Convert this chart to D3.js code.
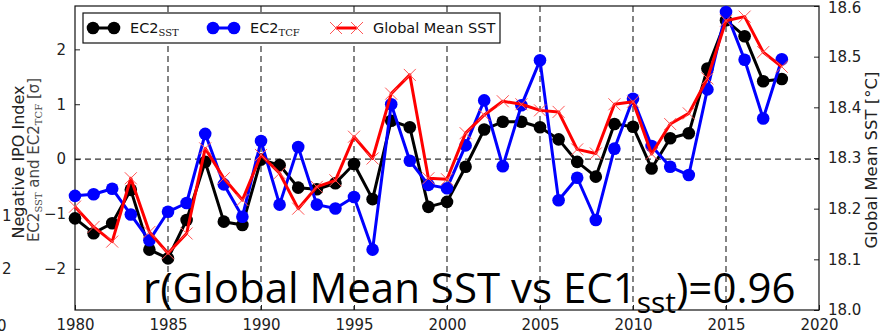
<!DOCTYPE html>
<html>
<head>
<meta charset="utf-8">
<script src="https://cdn.jsdelivr.net/npm/d3@7"></script>
<style>
  body { margin: 0; background: #fff; }
  svg { display: block; }
  text { font-family: "DejaVu Sans", sans-serif; }
</style>
</head>
<body>
<div id="chart"></div>
<script>
// years on x axis
var years = [1980, 1981, 1982, 1983, 1984, 1985, 1986, 1987, 1988, 1989,
    1990, 1991, 1992, 1993, 1994, 1995, 1996, 1997, 1998, 1999,
    2000, 2001, 2002, 2003, 2004, 2005, 2006, 2007, 2008, 2009,
    2010, 2011, 2012, 2013, 2014, 2015, 2016, 2017, 2018];

// EC2 from SST (black), left axis
var ec2sst = [-1.08, -1.35, -1.17, -0.56, -1.65, -1.81, -1.11, -0.05, -1.14, -1.20,
    -0.01, -0.11, -0.52, -0.55, -0.44, -0.09, -0.73, 0.70, 0.58, -0.87,
    -0.78, -0.14, 0.54, 0.68, 0.68, 0.58, 0.36, -0.05, -0.32, 0.64,
    0.59, -0.17, 0.38, 0.47, 1.65, 2.53, 2.24, 1.42, 1.46];

// EC2 from TCF (blue), left axis
var ec2tcf = [-0.67, -0.64, -0.54, -1.01, -1.48, -0.96, -0.80, 0.46, -0.46, -1.05,
    0.33, -0.83, 0.22, -0.83, -0.90, -0.69, -1.65, 1.00, -0.03, -0.47,
    -0.53, 0.25, 1.07, -0.13, 0.98, 1.80, -0.75, -0.34, -1.11, 0.19,
    1.10, 0.24, -0.14, -0.29, 1.27, 2.68, 1.81, 0.74, 1.82];

// global mean SST (red), right axis, deg C
var gmsst = [18.204, 18.164, 18.135, 18.260, 18.154, 18.112, 18.151, 18.319, 18.260, 18.217,
    18.306, 18.270, 18.200, 18.243, 18.256, 18.342, 18.299, 18.427, 18.464, 18.260,
    18.258, 18.349, 18.385, 18.412, 18.406, 18.394, 18.391, 18.317, 18.309, 18.406,
    18.411, 18.308, 18.367, 18.388, 18.457, 18.571, 18.579, 18.509, 18.480];

var xTicks = [1980, 1985, 1990, 1995, 2000, 2005, 2010, 2015, 2020];
var yLeftTicks = [-2, -1, 0, 1, 2];
var yRightTicks = [18.0, 18.1, 18.2, 18.3, 18.4, 18.5, 18.6];

var width = 880, height = 335;
var margin = { top: 6, right: 61, bottom: 25, left: 75 };

var svg = d3.select("#chart").append("svg")
    .attr("width", width)
    .attr("height", height);

var x = d3.scaleLinear().domain([1980, 2020]).range([margin.left, width - margin.right]);
var yL = d3.scaleLinear().domain([-2.75, 2.79]).range([height - margin.bottom, margin.top]);
var yR = d3.scaleLinear().domain([18.0, 18.6]).range([height - margin.bottom, margin.top]);

var x0 = margin.left, x1 = width - margin.right;
var y0 = margin.top, y1 = height - margin.bottom;

// dashed guide lines
svg.append("g")
    .selectAll("line")
    .data(xTicks.slice(1, -1))
    .enter().append("line")
    .attr("x1", function (d) { return x(d); })
    .attr("x2", function (d) { return x(d); })
    .attr("y1", y0)
    .attr("y2", y1)
    .attr("stroke", "#333")
    .attr("stroke-width", 1.2)
    .attr("stroke-dasharray", "6,4");

svg.append("line")
    .attr("x1", x0).attr("x2", x1)
    .attr("y1", yL(0)).attr("y2", yL(0))
    .attr("stroke", "#333")
    .attr("stroke-width", 1.2)
    .attr("stroke-dasharray", "6,4");

// axes (ticks inside like matplotlib classic)
var axB = svg.append("g")
    .attr("transform", "translate(0," + y1 + ")")
    .call(d3.axisBottom(x).tickValues(xTicks).tickFormat(d3.format("d")).tickSizeInner(-5).tickSizeOuter(0).tickPadding(9));
var axL = svg.append("g")
    .attr("transform", "translate(" + x0 + ",0)")
    .call(d3.axisLeft(yL).tickValues(yLeftTicks).tickFormat(function (d) { return d < 0 ? "\u2212" + Math.abs(d) : d; }).tickSizeInner(-5).tickSizeOuter(0).tickPadding(9));
var axR = svg.append("g")
    .attr("transform", "translate(" + x1 + ",0)")
    .call(d3.axisRight(yR).tickValues(yRightTicks).tickFormat(d3.format(".1f")).tickSizeInner(-5).tickSizeOuter(0).tickPadding(9));

[axB, axL, axR].forEach(function (g) {
    g.select(".domain").remove();
    g.selectAll("text").style("font-size", "15px").attr("fill", "#222").style("font-family", "DejaVu Sans, sans-serif");
    g.selectAll("line").attr("stroke", "#222");
});
axR.selectAll("text").filter(function (d) { return d == 18.6; }).attr("dy", "0.42em");

// frame
svg.append("rect")
    .attr("x", x0).attr("y", y0)
    .attr("width", x1 - x0).attr("height", y1 - y0)
    .attr("fill", "none")
    .attr("stroke", "#111")
    .attr("stroke-width", 1.2);

function drawDots(vals, yScale, col) {
    var line = d3.line()
        .x(function (d, i) { return x(years[i]); })
        .y(function (d) { return yScale(d); });
    svg.append("path")
        .datum(vals)
        .attr("d", line)
        .attr("fill", "none")
        .attr("stroke", col)
        .attr("stroke-width", 3)
        .attr("stroke-linejoin", "round");
    svg.append("g")
        .selectAll("circle")
        .data(vals)
        .enter().append("circle")
        .attr("cx", function (d, i) { return x(years[i]); })
        .attr("cy", function (d) { return yScale(d); })
        .attr("r", 6.3)
        .attr("fill", col);
}

drawDots(ec2sst, yL, "#000");
drawDots(ec2tcf, yL, "#0000ff");

// global mean SST with x markers
var redLine = d3.line()
    .x(function (d, i) { return x(years[i]); })
    .y(function (d) { return yR(d); });
svg.append("path")
    .datum(gmsst)
    .attr("d", redLine)
    .attr("fill", "none")
    .attr("stroke", "#ff0000")
    .attr("stroke-width", 3)
    .attr("stroke-linejoin", "round");
svg.append("g")
    .selectAll("path")
    .data(gmsst)
    .enter().append("path")
    .attr("d", function (d, i) {
        var cx = x(years[i]), cy = yR(d), s = 6;
        return "M" + (cx - s) + "," + (cy - s) + "L" + (cx + s) + "," + (cy + s) +
            "M" + (cx - s) + "," + (cy + s) + "L" + (cx + s) + "," + (cy - s);
    })
    .attr("stroke", "#ff5555")
    .attr("stroke-width", 1)
    .attr("fill", "none");

// legend
var lg = svg.append("g");
lg.append("rect")
    .attr("x", 83).attr("y", 13)
    .attr("width", 417).attr("height", 30)
    .attr("fill", "#fff")
    .attr("stroke", "#111")
    .attr("stroke-width", 1.2);

var legendItems = [
    { col: "#000", main: "EC2", sub: "SST", x: 93, kind: "dot" },
    { col: "#0000ff", main: "EC2", sub: "TCF", x: 213, kind: "dot" },
    { col: "#ff0000", main: "Global Mean SST", sub: "", x: 336, kind: "cross" }
];
legendItems.forEach(function (d) {
    var ly = 28;
    lg.append("line")
        .attr("x1", d.x).attr("x2", d.x + 21)
        .attr("y1", ly).attr("y2", ly)
        .attr("stroke", d.col).attr("stroke-width", 3);
    [d.x, d.x + 21].forEach(function (px) {
        if (d.kind == "dot") {
            lg.append("circle").attr("cx", px).attr("cy", ly).attr("r", 6.3).attr("fill", d.col);
        } else {
            lg.append("path")
                .attr("d", "M" + (px - 6) + "," + (ly - 6) + "L" + (px + 6) + "," + (ly + 6) +
                    "M" + (px - 6) + "," + (ly + 6) + "L" + (px + 6) + "," + (ly - 6))
                .attr("stroke", "#ff5555").attr("stroke-width", 1);
        }
    });
    var t = lg.append("text")
        .attr("x", d.x + 37)
        .attr("y", ly + 5)
        .attr("fill", "#111")
        .style("font-size", "14.5px")
        .text(d.main);
    if (d.sub) {
        t.append("tspan")
            .attr("dy", 3)
            .style("font-family", "DejaVu Serif, serif")
            .style("font-size", "10px")
            .text(d.sub);
    }
});

// left axis labels
svg.append("text")
    .attr("transform", "translate(24,162) rotate(-90)")
    .attr("text-anchor", "middle")
    .attr("fill", "#222")
    .style("font-size", "16px")
    .text("Negative IPO Index");
var ly2 = svg.append("text")
    .attr("transform", "translate(39,160) rotate(-90)")
    .attr("text-anchor", "middle")
    .attr("fill", "#444")
    .style("font-size", "15px");
ly2.append("tspan").text("EC2");
ly2.append("tspan").attr("dy", 3).style("font-size", "10px").style("font-family", "DejaVu Serif, serif").text("SST");
ly2.append("tspan").attr("dy", -3).text(" and EC2");
ly2.append("tspan").attr("dy", 3).style("font-size", "10px").style("font-family", "DejaVu Serif, serif").text("TCF");
ly2.append("tspan").attr("dy", -3).text(" [\u03c3]");

// right axis label
svg.append("text")
    .attr("transform", "translate(877,160) rotate(-90)")
    .attr("text-anchor", "middle")
    .attr("fill", "#222")
    .style("font-size", "16.5px")
    .text("Global Mean SST [\u00b0C]");

// stray digits from neighbouring panel at left edge
svg.append("text").attr("x", 2).attr("y", 221).style("font-size", "15px").attr("fill", "#222").text("1");
svg.append("text").attr("x", 2).attr("y", 274).style("font-size", "15px").attr("fill", "#222").text("2");
svg.append("text").attr("x", -3).attr("y", 331).style("font-size", "15px").attr("fill", "#222").text("0");

// big correlation annotation
var ann = svg.append("text")
    .attr("x", 143)
    .attr("y", 303)
    .attr("fill", "#000")
    .style("font-family", "Open Sans, sans-serif")
    .style("font-size", "42px");
ann.append("tspan").text("r(Global Mean SST vs EC1");
ann.append("tspan").attr("dy", 10).style("font-size", "30px").text("sst");
ann.append("tspan").attr("dy", -10).text(")=0.96");
</script>
</body>
</html>
